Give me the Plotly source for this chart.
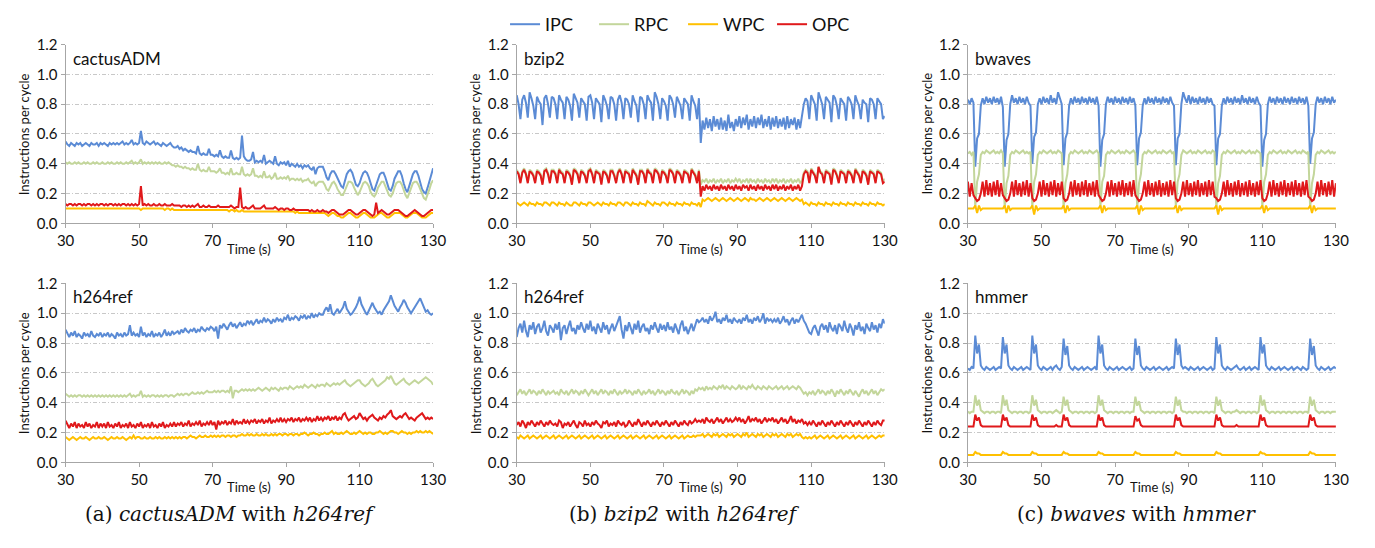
import plotly.graph_objects as go

# ---------------- data (values in hundredths of instructions per cycle) ----------------
# sampled every 0.5 s from 30 s to 130 s (201 samples per series)
TIME = [30 + 0.5 * i for i in range(201)]
X_TICKS = [30, 50, 70, 90, 110, 130]
Y_TICKS = [0.0, 0.2, 0.4, 0.6, 0.8, 1.0, 1.2]
SERIES_NAMES = ["IPC", "RPC", "WPC", "OPC"]

CACTUS_IPC = [
    55,53,52,54,53,52,54,53,54,52,53,54,53,52,54,53,53,54,52,54,
    53,54,53,52,54,53,54,53,54,53,54,55,53,54,53,54,56,53,54,53,
    54,62,54,53,55,54,53,54,55,53,54,53,52,54,53,52,53,54,52,51,
    51,52,50,51,49,50,49,48,49,48,48,47,52,47,46,47,46,46,50,46,
    46,45,46,45,49,45,44,45,44,44,49,44,43,44,43,44,59,45,43,42,
    42,43,48,41,42,41,42,41,46,40,41,42,41,40,45,40,39,41,40,41,
    39,42,38,40,39,38,40,38,39,37,39,38,39,37,36,38,33,37,38,38,
    38,35,31,29,33,35,35,33,30,27,25,24,28,33,35,36,34,30,26,25,
    27,31,34,35,34,31,27,23,22,26,30,33,34,34,31,27,23,22,25,30,
    33,35,35,32,27,23,21,25,30,33,35,35,32,28,23,21,20,24,29,34,
    37]
CACTUS_RPC = [
    41,40,41,40,40,41,40,41,40,40,41,40,41,40,40,41,40,41,40,40,
    41,40,40,41,40,41,40,40,41,40,41,40,40,41,40,41,42,40,41,40,
    41,43,40,41,40,41,40,41,40,41,40,41,40,40,41,40,41,40,39,39,
    38,39,38,38,37,38,37,37,36,37,36,36,40,36,35,36,35,35,38,35,
    35,35,34,35,37,34,34,33,34,33,37,33,33,34,33,33,38,33,32,33,
    32,33,37,32,32,31,32,31,35,31,31,32,30,31,34,30,30,31,30,31,
    30,32,29,30,30,29,30,29,30,28,29,29,30,28,27,28,25,27,28,28,
    28,26,23,22,25,27,28,26,23,21,19,19,22,26,28,28,27,24,21,19,
    21,24,27,28,27,25,21,19,18,20,24,26,28,28,25,22,19,18,20,24,
    27,28,28,26,22,19,17,20,24,27,28,28,26,23,19,17,16,19,23,27,
    29]
CACTUS_WPC = [
    10,10,10,10,10,10,10,10,10,10,10,10,10,10,10,10,10,10,10,10,
    10,10,10,10,10,10,10,10,10,10,10,10,10,10,10,10,10,10,10,10,
    10,9,10,10,10,10,10,10,10,10,10,10,10,10,9,10,10,9,10,9,
    9,9,9,9,9,9,9,9,9,9,9,9,9,9,9,9,9,9,9,9,
    9,9,9,9,9,9,9,9,9,8,9,9,8,9,8,8,9,8,8,8,
    8,8,8,8,8,8,8,8,8,8,8,8,8,8,8,8,8,8,8,8,
    8,8,8,8,8,7,8,7,7,7,7,7,7,7,7,7,7,7,7,7,
    7,7,6,5,6,7,7,6,5,5,4,4,5,6,7,7,6,5,4,4,
    5,6,7,7,6,5,4,4,4,5,6,7,7,6,5,4,4,5,6,7,
    7,7,7,6,5,4,4,5,6,7,7,7,6,5,4,4,4,5,6,7,
    7]
CACTUS_OPC = [
    13,12,13,13,12,13,12,13,13,12,13,12,13,13,12,13,12,13,12,13,
    13,12,13,12,13,13,12,13,12,13,12,13,13,12,13,12,13,12,13,12,
    13,25,12,13,12,13,12,12,13,12,12,13,12,12,13,12,12,12,13,12,
    12,12,12,11,12,12,11,12,11,12,11,12,13,11,11,12,11,11,12,11,
    11,11,11,12,11,11,11,11,11,11,12,11,10,11,11,24,11,10,11,10,
    10,11,12,10,10,10,10,11,12,10,10,10,10,10,11,10,9,10,10,9,
    10,10,9,9,10,9,9,9,9,9,9,9,9,8,9,8,8,9,8,8,
    9,8,8,7,8,9,9,8,7,6,6,6,7,8,9,9,8,7,6,6,
    7,8,9,9,8,7,6,5,6,14,7,8,9,8,7,6,6,7,8,9,
    9,9,8,7,6,5,5,6,7,8,9,8,7,6,5,5,6,7,8,9,
    9]

BZIP_IPC = [
    86,80,70,83,86,81,71,88,84,79,70,85,82,80,66,84,86,80,71,85,
    84,80,70,86,83,81,70,85,83,79,69,87,84,81,71,84,82,80,69,85,
    86,81,70,84,82,80,68,86,83,79,70,85,84,80,69,83,86,81,70,84,
    83,80,71,86,82,79,68,85,84,80,70,86,83,81,69,88,85,80,70,84,
    82,79,69,86,84,80,71,85,82,79,70,84,82,80,69,86,82,79,70,84,
    54,69,63,71,64,70,62,72,65,70,63,71,63,69,62,73,64,68,62,70,
    65,72,64,71,66,73,63,70,65,72,64,71,66,73,64,70,65,72,63,71,
    65,72,64,70,65,71,63,72,64,70,66,71,63,70,64,72,80,84,82,70,
    86,83,80,69,88,84,80,70,85,83,81,68,86,84,79,70,84,82,80,69,
    85,83,80,70,86,82,79,70,83,81,80,68,84,83,80,70,84,82,80,70,
    72]
BZIP_RPC = [
    36,34,28,35,37,34,28,36,35,33,28,36,35,33,27,36,37,34,28,36,
    36,34,28,37,35,34,28,36,35,33,27,37,36,34,28,36,35,33,28,36,
    37,34,28,36,35,34,27,36,35,33,28,36,36,33,28,35,37,34,28,36,
    35,34,28,37,35,33,27,36,36,34,28,37,35,34,28,37,36,34,28,36,
    35,33,28,37,36,34,28,36,35,33,28,36,35,34,28,37,35,33,28,36,
    26,29,28,30,27,29,28,30,27,29,28,30,27,29,28,30,27,29,28,30,
    28,30,27,29,28,30,27,30,28,29,27,30,28,29,27,30,28,29,27,30,
    28,30,27,29,28,30,27,29,28,30,27,29,28,30,27,29,34,36,35,28,
    37,35,33,28,38,35,34,28,36,35,34,27,37,36,33,28,36,35,34,28,
    36,35,33,28,37,35,33,28,36,35,33,27,36,35,34,28,36,35,34,28,
    30]
BZIP_WPC = [
    14,13,12,13,14,13,12,14,13,13,12,14,13,13,12,14,14,13,12,14,
    14,13,12,14,13,13,12,14,13,12,12,14,14,13,12,14,13,13,12,14,
    14,13,12,13,14,13,12,14,13,13,12,14,13,13,12,14,14,13,12,14,
    14,13,12,14,13,13,12,14,13,13,12,15,14,13,12,14,13,13,12,14,
    14,13,12,14,13,13,12,14,13,13,12,14,13,13,12,14,13,13,12,14,
    11,16,15,16,17,16,15,16,17,16,15,16,17,16,15,16,17,16,15,16,
    17,16,15,16,17,16,15,17,16,16,15,16,17,16,15,16,17,16,15,16,
    17,16,15,16,17,16,15,16,17,16,15,16,17,16,15,16,13,14,13,12,
    14,13,13,12,14,13,13,12,14,13,13,12,14,13,13,12,14,13,13,12,
    14,13,13,12,14,13,13,12,14,13,13,12,14,13,13,12,14,13,13,12,
    13]
BZIP_OPC = [
    35,33,27,34,36,33,27,35,34,32,27,35,34,32,26,35,36,33,27,35,
    35,33,27,36,34,33,27,35,34,32,26,36,35,33,27,35,34,32,27,35,
    36,33,27,35,34,33,26,35,34,32,27,35,35,32,27,34,36,33,27,35,
    34,33,27,36,34,32,26,35,35,33,27,36,34,33,27,36,35,33,27,35,
    34,32,27,36,35,33,27,35,34,32,27,35,34,33,27,36,34,32,27,35,
    18,25,22,26,23,25,22,26,23,25,22,26,23,25,22,26,23,25,22,26,
    23,25,22,26,24,25,22,26,23,25,22,26,23,25,22,26,23,25,22,26,
    23,26,22,25,23,26,22,25,23,26,22,25,23,26,22,25,33,35,34,27,
    36,34,32,27,38,34,33,27,35,34,33,26,36,35,32,27,35,34,33,27,
    35,34,32,27,36,34,32,27,35,34,32,26,35,34,33,27,35,34,33,27,
    28]

BWAVES_IPC = [
    83,80,84,81,38,57,60,79,84,80,85,81,84,80,85,81,84,80,85,78,
    38,56,60,80,86,81,84,80,85,81,84,80,85,81,79,40,58,61,80,84,
    80,85,81,84,80,86,81,84,80,88,84,80,39,57,61,79,84,80,85,81,
    84,80,85,81,84,80,85,81,84,80,85,79,38,56,60,80,85,81,84,80,
    85,81,84,80,85,81,84,80,85,81,84,79,39,57,61,79,84,80,85,81,
    84,80,85,81,84,80,85,81,84,80,85,81,79,39,57,60,80,88,84,81,
    86,80,85,81,84,80,85,81,84,80,85,81,84,80,79,39,57,60,79,84,
    80,85,81,84,80,85,81,84,80,86,81,84,80,85,81,84,80,85,81,79,
    38,56,60,80,85,81,84,80,85,81,84,80,85,81,84,80,85,81,84,80,
    85,81,84,80,85,79,40,57,61,80,85,81,84,80,85,81,84,80,85,81,
    83]
BWAVES_RPC = [
    47,48,46,48,11,28,33,46,48,47,49,48,47,48,49,47,48,47,49,47,
    10,27,32,46,48,47,49,48,47,48,49,47,48,47,48,11,28,33,46,48,
    47,49,48,47,48,49,47,48,47,49,48,47,10,27,33,46,48,47,49,48,
    47,48,49,47,48,47,49,48,47,48,49,47,11,28,32,46,48,47,49,48,
    47,48,49,47,48,47,49,48,47,48,49,47,10,27,33,46,48,47,49,48,
    47,48,49,47,48,47,49,48,47,48,49,47,48,11,28,33,46,49,48,47,
    48,49,47,48,47,49,48,47,48,49,47,48,47,49,48,10,27,32,46,48,
    47,49,48,47,48,49,47,48,47,49,48,47,48,49,47,48,47,49,48,47,
    11,28,33,46,48,47,49,48,47,48,49,47,48,47,49,48,47,48,49,47,
    48,47,49,48,47,48,10,27,33,46,48,47,49,48,47,48,49,47,48,47,
    48]
BWAVES_WPC = [
    10,10,10,10,12,7,12,9,10,10,10,10,10,10,10,10,10,10,10,10,
    12,7,12,9,10,10,10,10,10,10,10,10,10,10,10,12,6,12,9,10,
    10,10,10,10,10,10,10,10,10,10,10,10,12,7,12,9,10,10,10,10,
    10,10,10,10,10,10,10,10,10,10,10,10,12,7,12,9,10,10,10,10,
    10,10,10,10,10,10,10,10,10,10,10,10,12,6,12,9,10,10,10,10,
    10,10,10,10,10,10,10,10,10,10,10,10,10,12,7,12,9,10,10,10,
    10,10,10,10,10,10,10,10,10,10,10,10,10,10,10,12,6,12,9,10,
    10,10,10,10,10,10,10,10,10,10,10,10,10,10,10,10,10,10,10,10,
    12,7,12,9,10,10,10,10,10,10,10,10,10,10,10,10,10,10,10,10,
    10,10,10,10,10,10,12,7,12,9,10,10,10,10,10,10,10,10,10,10,
    10]
BWAVES_OPC = [
    28,18,27,19,17,15,16,20,28,18,29,19,27,18,28,19,29,18,27,19,
    17,15,16,20,28,18,29,19,27,18,28,19,29,18,27,17,15,16,20,28,
    18,29,19,27,18,28,19,29,18,27,19,28,17,15,16,20,28,18,29,19,
    27,18,28,19,29,18,27,19,28,18,29,19,17,15,16,20,28,18,29,19,
    27,18,28,19,29,18,27,19,28,18,29,19,17,15,16,20,28,18,29,19,
    27,18,28,19,29,18,27,19,28,18,29,19,28,17,15,16,20,28,18,29,
    19,27,18,28,19,29,18,27,19,28,18,29,19,28,18,17,15,16,20,28,
    18,29,19,27,18,28,19,29,18,27,19,28,18,29,19,27,18,28,19,29,
    17,15,16,20,28,18,29,19,27,18,28,19,29,18,27,19,28,18,29,19,
    27,18,28,19,29,18,17,15,16,20,28,18,29,19,27,18,28,19,29,18,
    27]

H264A_IPC = [
    89,86,84,87,85,88,84,86,85,83,87,85,86,84,88,85,84,86,85,87,
    84,86,85,87,84,86,85,83,87,85,86,84,87,85,86,92,85,87,85,86,
    84,91,85,87,84,86,85,88,84,86,85,87,84,86,89,85,87,85,88,86,
    87,88,86,89,87,90,88,87,89,88,90,87,89,88,91,89,88,90,89,91,
    90,88,91,83,92,90,93,91,89,92,94,91,93,90,92,94,91,93,92,95,
    93,95,92,94,96,93,95,94,97,94,96,95,93,96,94,97,95,96,94,97,
    96,99,95,97,96,98,97,95,98,97,99,96,98,97,100,97,99,98,100,99,
    99,102,104,101,106,100,99,101,103,100,102,104,108,103,101,99,100,102,104,107,
    111,106,103,101,99,102,104,107,104,102,100,101,99,102,104,106,108,112,108,105,
    103,101,104,106,109,107,104,102,100,102,104,106,108,110,107,104,101,102,100,99,
    100]
H264A_RPC = [
    46,45,44,45,44,45,44,45,45,44,45,44,45,44,45,44,45,44,45,44,
    45,44,45,44,45,44,45,44,45,44,45,44,45,44,45,46,44,45,44,45,
    45,48,44,45,44,45,44,45,45,44,45,44,45,44,45,45,44,45,45,44,
    45,46,45,46,45,46,46,45,46,47,46,46,47,46,47,46,47,48,47,47,
    47,48,47,48,47,48,48,47,48,47,51,43,48,48,47,48,49,48,49,48,
    49,48,49,48,49,50,49,48,49,50,49,48,50,49,50,49,48,50,49,50,
    50,49,51,50,49,50,51,50,51,50,52,51,50,51,52,51,50,52,51,52,
    52,51,53,52,51,52,53,52,53,52,53,54,55,53,52,51,52,53,54,55,
    55,53,52,51,52,53,55,56,54,52,51,52,53,54,55,57,56,58,55,53,
    52,53,54,55,56,54,53,52,53,54,55,54,53,54,55,56,57,56,55,54,
    52]
H264A_WPC = [
    17,16,15,16,17,16,15,16,17,16,16,17,16,15,16,17,16,16,17,16,
    16,17,16,15,16,17,16,16,17,16,16,17,16,15,16,17,16,18,16,17,
    17,16,16,17,16,16,17,16,16,17,16,17,16,16,17,16,17,16,17,16,
    17,16,17,16,17,17,16,17,18,17,17,16,17,18,17,17,18,17,17,18,
    17,18,17,18,17,18,18,17,18,18,17,18,18,17,18,18,19,18,18,19,
    18,19,18,18,19,18,18,19,18,19,18,18,19,18,19,18,19,19,18,19,
    19,18,19,19,18,19,19,18,19,19,20,19,18,19,19,20,19,19,18,19,
    19,20,19,19,20,21,19,20,19,19,20,19,20,21,20,19,19,20,19,20,
    21,20,19,20,19,20,20,19,19,20,20,21,20,19,20,19,20,21,21,20,
    20,19,20,21,20,20,19,20,19,20,20,21,20,21,20,20,21,20,21,20,
    19]
H264A_OPC = [
    28,25,23,26,24,27,23,26,24,25,23,27,24,26,23,25,24,27,23,26,
    24,26,23,27,24,25,23,26,24,27,23,25,24,26,23,27,24,25,23,26,
    24,27,23,25,24,26,23,27,24,25,23,26,24,27,23,25,24,26,24,27,
    24,26,25,27,24,26,25,28,24,26,25,27,25,28,24,26,25,27,25,28,
    25,27,22,28,25,27,26,28,25,27,26,29,25,28,26,27,26,29,26,28,
    26,28,27,29,26,28,27,29,26,28,27,30,26,28,27,29,27,30,27,29,
    27,29,28,30,27,29,28,30,27,29,28,30,28,30,27,29,28,31,28,30,
    28,30,29,31,28,30,29,31,28,30,29,32,33,30,28,29,30,31,29,30,
    33,31,29,30,28,30,31,32,30,29,28,30,29,31,30,32,33,35,31,30,
    29,30,31,30,32,33,31,29,30,29,28,30,31,32,33,31,29,30,29,30,
    29]

H264B_IPC = [
    84,90,93,87,95,88,84,92,89,94,86,91,93,87,90,95,88,85,92,90,
    87,93,89,94,82,90,92,86,91,95,88,90,86,92,89,94,90,87,93,89,
    95,88,91,86,93,90,87,94,89,92,86,90,93,88,91,95,98,89,83,92,
    88,94,90,86,93,89,95,87,91,93,88,90,86,92,89,94,90,87,93,89,
    92,88,94,89,91,87,93,90,86,92,95,88,91,86,89,93,88,92,96,94,
    95,97,94,96,93,98,95,97,101,94,96,93,97,95,99,94,96,93,97,95,
    94,96,93,97,95,99,94,96,93,97,95,98,94,96,100,93,97,95,96,94,
    96,94,97,93,95,98,94,96,92,95,97,93,96,94,97,99,95,93,90,87,
    86,90,92,88,85,91,93,89,92,87,94,90,88,92,86,93,91,88,95,90,
    87,93,90,85,92,89,94,88,91,86,93,90,88,94,89,92,87,93,90,96,
    93]
H264B_RPC = [
    45,47,49,46,48,45,47,49,46,48,47,45,48,46,49,47,45,48,46,47,
    48,46,47,45,49,47,46,48,45,47,49,46,48,47,45,48,46,49,47,45,
    47,49,46,48,45,47,49,46,48,47,45,48,46,49,47,45,48,46,47,49,
    46,48,47,45,48,46,49,47,45,48,46,47,49,46,48,45,47,49,46,48,
    47,45,48,46,49,47,46,48,45,47,49,46,48,47,45,48,46,49,48,50,
    49,50,48,51,49,50,49,51,50,49,51,50,52,49,51,50,49,51,50,49,
    50,52,49,51,50,49,51,50,52,50,49,51,50,49,51,50,49,51,50,49,
    50,51,49,50,51,49,50,51,49,50,51,50,49,51,50,48,46,47,45,47,
    46,48,45,47,49,46,48,47,45,48,46,49,47,44,48,46,49,47,45,48,
    46,49,47,45,48,46,44,47,49,46,48,45,47,49,46,48,45,47,49,48,
    49]
H264B_WPC = [
    17,16,18,17,16,17,18,16,17,18,17,16,17,18,16,17,18,17,16,17,
    18,16,17,18,17,16,17,18,16,17,18,17,16,17,18,16,17,18,17,16,
    17,18,16,17,18,17,16,17,18,16,17,18,17,16,17,18,16,17,18,17,
    16,17,18,16,17,18,17,16,17,18,16,17,18,17,16,17,18,16,17,18,
    17,16,17,18,16,17,18,17,16,17,18,16,17,18,17,17,18,17,18,18,
    18,19,17,18,19,18,17,19,18,19,17,18,19,18,17,19,18,19,17,18,
    19,18,17,19,18,20,17,18,19,18,17,19,18,19,17,18,19,18,17,19,
    18,19,17,18,19,18,17,19,18,19,17,18,19,18,19,17,16,17,16,17,
    16,17,18,16,17,18,17,16,17,18,16,17,18,17,16,17,18,16,17,18,
    17,16,17,18,16,17,18,17,16,17,18,16,17,18,17,16,17,18,17,18,
    18]
H264B_OPC = [
    25,27,24,28,26,23,27,25,28,26,24,27,25,28,26,24,27,25,28,26,
    25,26,24,28,27,23,26,25,27,24,26,28,25,23,27,26,24,28,25,26,
    24,27,25,28,26,25,23,27,26,28,24,26,25,27,24,28,26,25,27,24,
    25,28,26,24,27,25,29,26,24,27,25,28,26,24,27,25,28,26,24,27,
    25,28,26,24,27,25,28,26,24,27,25,28,26,25,28,26,27,29,27,28,
    27,29,26,30,28,27,29,26,28,30,27,29,26,28,30,27,29,27,28,30,
    28,30,27,29,26,28,31,27,29,28,30,27,29,26,28,30,27,29,28,30,
    27,29,26,28,30,27,29,26,28,31,27,29,26,28,27,29,26,27,25,27,
    25,28,26,24,27,25,28,26,24,27,25,28,26,24,27,25,28,26,24,27,
    25,28,26,24,27,25,28,26,24,27,25,28,26,24,27,25,28,26,25,28,
    28]

HMMER_IPC = [
    63,62,64,63,85,73,79,65,63,62,64,63,62,63,64,62,63,64,63,84,
    73,79,65,63,62,64,63,62,63,64,62,63,64,63,62,85,73,79,65,63,
    62,64,63,62,63,64,62,64,65,63,62,64,83,72,78,65,63,62,64,63,
    62,63,64,62,63,64,63,62,63,64,62,85,73,79,65,63,62,64,63,62,
    63,64,62,63,64,63,62,63,64,62,63,83,72,78,65,63,62,64,63,62,
    63,64,62,63,64,63,62,63,64,62,63,64,63,83,72,79,65,63,64,63,
    62,64,63,62,63,64,62,63,64,63,62,63,64,62,63,84,73,79,65,63,
    62,64,63,62,63,64,65,63,62,63,64,62,63,64,62,63,64,63,62,84,
    73,79,65,63,62,64,63,62,63,64,62,63,64,63,62,63,64,62,63,64,
    63,62,64,63,62,63,83,72,78,65,63,62,64,63,62,63,64,62,63,64,
    63]
HMMER_RPC = [
    34,33,34,34,45,38,42,35,34,33,34,34,33,34,34,33,34,34,33,45,
    38,42,35,34,33,34,34,33,34,34,33,34,34,33,34,45,38,42,35,34,
    33,34,34,33,34,34,33,34,35,34,33,34,44,38,42,35,34,33,34,34,
    33,34,34,33,34,34,33,34,34,33,34,45,38,42,35,34,33,34,34,33,
    34,34,33,34,34,33,34,34,33,34,34,44,38,41,35,34,33,34,34,33,
    34,34,33,34,34,33,34,34,33,34,34,33,34,44,38,42,35,34,34,33,
    34,34,33,34,34,33,34,34,33,34,34,33,34,34,33,44,38,42,35,34,
    33,34,34,33,34,34,35,34,33,34,34,33,34,34,33,34,34,33,34,45,
    38,42,35,34,33,34,34,33,34,34,33,34,34,33,34,34,33,34,34,33,
    34,34,33,34,34,33,44,38,42,35,34,33,34,34,33,34,34,33,34,34,
    34]
HMMER_WPC = [
    5,5,5,5,7,6,6,5,5,5,5,5,5,5,5,5,5,5,5,7,
    6,6,5,5,5,5,5,5,5,5,5,5,5,5,5,7,6,6,5,5,
    5,5,5,5,5,5,5,5,5,5,5,5,7,6,6,5,5,5,5,5,
    5,5,5,5,5,5,5,5,5,5,5,7,6,6,5,5,5,5,5,5,
    5,5,5,5,5,5,5,5,5,5,5,7,6,6,5,5,5,5,5,5,
    5,5,5,5,5,5,5,5,5,5,5,5,5,7,6,6,5,5,5,5,
    5,5,5,5,5,5,5,5,5,5,5,5,5,5,5,7,6,6,5,5,
    5,5,5,5,5,5,5,5,5,5,5,5,5,5,5,5,5,5,5,7,
    6,6,5,5,5,5,5,5,5,5,5,5,5,5,5,5,5,5,5,5,
    5,5,5,5,5,5,7,6,6,5,5,5,5,5,5,5,5,5,5,5,
    5]
HMMER_OPC = [
    24,24,24,24,32,28,30,25,24,24,24,24,24,24,24,24,24,24,24,32,
    28,30,25,24,24,24,24,24,24,24,24,24,24,24,24,32,28,30,25,24,
    24,24,24,24,24,24,24,24,25,24,24,24,32,28,30,25,24,24,24,24,
    24,24,24,24,24,24,24,24,24,24,24,32,28,30,25,24,24,24,24,24,
    24,24,24,24,24,24,24,24,24,24,24,31,28,29,25,24,24,24,24,24,
    24,24,24,24,24,24,24,24,24,24,24,24,24,32,28,30,25,24,24,24,
    24,24,24,24,24,24,24,24,24,24,24,24,24,24,24,32,28,30,25,24,
    24,24,24,24,24,24,25,24,24,24,24,24,24,24,24,24,24,24,24,32,
    28,30,25,24,24,24,24,24,24,24,24,24,24,24,24,24,24,24,24,24,
    24,24,24,24,24,24,32,28,30,25,24,24,24,24,24,24,24,24,24,24,
    24]

PANEL_LABELS = ["cactusADM", "bzip2", "bwaves", "h264ref", "h264ref", "hmmer"]
PANEL_DATA = [
    (CACTUS_IPC, CACTUS_RPC, CACTUS_WPC, CACTUS_OPC),
    (BZIP_IPC, BZIP_RPC, BZIP_WPC, BZIP_OPC),
    (BWAVES_IPC, BWAVES_RPC, BWAVES_WPC, BWAVES_OPC),
    (H264A_IPC, H264A_RPC, H264A_WPC, H264A_OPC),
    (H264B_IPC, H264B_RPC, H264B_WPC, H264B_OPC),
    (HMMER_IPC, HMMER_RPC, HMMER_WPC, HMMER_OPC),
]
CAPTIONS = ["(a) <i>cactusADM</i> with <i>h264ref</i>",
            "(b) <i>bzip2</i> with <i>h264ref</i>",
            "(c) <i>bwaves</i> with <i>hmmer</i>"]

# ---------------- styling ----------------
W, H = 1375, 548
COLORS = ["#5B8BD5", "#C3D69B", "#FFC000", "#E0191B"]
SANS = "Lato, 'Open Sans', sans-serif"
SERIF = "'DejaVu Serif', 'Liberation Serif', serif"
TXT = "#111111"
COLS = [(57.5, 431.0), (516.0, 890.0), (974.5, 1348.5)]
ROWS = [(35.7, 220.7), (282.7, 467.7)]
CAPTION_X = [225, 686, 1146]

fig = go.Figure()
layout = dict(width=W, height=H, autosize=False,
              margin=dict(l=0, r=0, t=0, b=0),
              paper_bgcolor="white", plot_bgcolor="white",
              font=dict(family=SANS, color=TXT))
annotations = []
bad = []

for k in range(6):
    r, c = divmod(k, 3)
    ax = "" if k == 0 else str(k + 1)
    x0, x1 = COLS[c]
    top, bot = ROWS[r]
    layout["xaxis" + ax] = dict(
        domain=[x0 / W, x1 / W], anchor="y" + ax, range=[30, 130],
        tickvals=X_TICKS, ticks="outside", ticklen=4, tickcolor="#A6A6A6",
        showline=True, linecolor="#A6A6A6", linewidth=1, showgrid=False,
        zeroline=False, tickfont=dict(size=15, family=SANS, color=TXT))
    layout["yaxis" + ax] = dict(
        domain=[1 - bot / H, 1 - top / H], anchor="x" + ax, range=[0, 1.2],
        tickvals=Y_TICKS, tickformat=".1f", ticks="outside", ticklen=4,
        tickcolor="#A6A6A6", showline=True, linecolor="#A6A6A6", linewidth=1,
        showgrid=True, gridcolor="#C8C8C8", gridwidth=1, griddash="4px,2px,1px,2px",
        zeroline=False, tickfont=dict(size=15, family=SANS, color=TXT))
    for s, (name, vals) in enumerate(zip(SERIES_NAMES, PANEL_DATA[k])):
        if len(vals) != len(TIME):
            bad.append(f"{PANEL_LABELS[k]}-{name}:{len(vals)}")
        fig.add_trace(go.Scatter(
            x=TIME[:len(vals)], y=[v / 100 for v in vals], mode="lines", name=name,
            line=dict(color=COLORS[s], width=2), xaxis="x" + ax, yaxis="y" + ax,
            legendgroup=name, showlegend=(k == 0), hoverinfo="skip"))
    annotations.append(dict(text=PANEL_LABELS[k], xref="paper", yref="paper",
                            x=(x0 + 5) / W, y=1 - (top + 14) / H, xanchor="left", yanchor="middle",
                            showarrow=False, font=dict(size=17, family=SANS, color=TXT)))
    annotations.append(dict(text="Instructions per cycle", xref="paper", yref="paper",
                            x=(x0 - 42) / W, y=1 - (top + bot) / 2 / H, textangle=-90,
                            xanchor="center", yanchor="middle", showarrow=False,
                            font=dict(size=13, family=SANS, color=TXT)))
    annotations.append(dict(text="Time (s)", xref="paper", yref="paper",
                            x=(x0 + x1) / 2 / W, y=1 - (bot + 26) / H,
                            xanchor="center", yanchor="middle", showarrow=False,
                            font=dict(size=13, family=SANS, color=TXT)))

for c, cap in enumerate(CAPTIONS):
    annotations.append(dict(text=cap, xref="paper", yref="paper",
                            x=CAPTION_X[c] / W, y=1 - 521 / H, xanchor="center", yanchor="middle",
                            showarrow=False, font=dict(size=20, family=SERIF, color=TXT)))

if bad:
    annotations.append(dict(text="LEN " + " ".join(bad), xref="paper", yref="paper",
                            x=0.5, y=0.5, showarrow=False, font=dict(size=20, color="magenta")))

layout["annotations"] = annotations
layout["legend"] = dict(orientation="h", x=685 / W, y=1 - 15 / H, xanchor="center", yanchor="middle",
                        font=dict(size=18, family=SANS, color=TXT), entrywidth=44,
                        bgcolor="rgba(0,0,0,0)", itemwidth=30, tracegroupgap=0)
fig.update_layout(**layout)
fig.write_html("out.html", include_plotlyjs=True, full_html=True,
               config={"displayModeBar": False},
               post_script="document.body.style.margin='0px';document.body.style.overflow='hidden';")
